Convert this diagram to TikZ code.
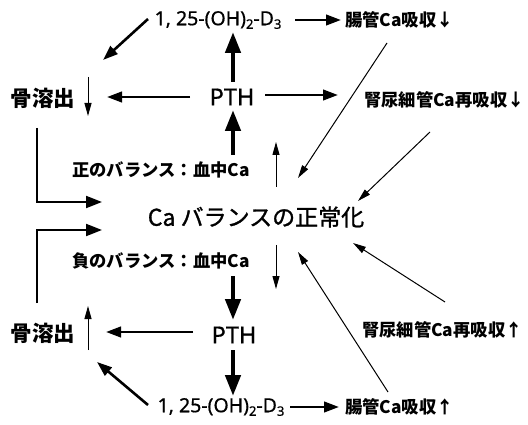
\documentclass[tikz,border=0pt]{standalone}
\usepackage{fontspec}
\setmainfont{Noto Sans}
\newfontfamily\latm[FakeBold=0.7]{Noto Sans}
\newfontfamily\jp{Noto Sans CJK JP}
\newfontfamily\jpm[FakeBold=1.2]{Noto Sans CJK JP}
\usetikzlibrary{arrows.meta}
\newcommand{\lowidx}[1]{\raisebox{-3.5pt}{\fontsize{13}{13}\selectfont #1}}
\tikzset{
  lat/.style={inner sep=0pt, font=\latm\fontsize{19.5}{19.5}\selectfont},
  big/.style={inner sep=0pt, font=\latm\fontsize{23.5}{23.5}\selectfont},
  jlab/.style={inner sep=0pt, font=\jp\bfseries\fontsize{17.3}{17.3}\selectfont},
  jbone/.style={inner sep=0pt, font=\jp\bfseries\fontsize{21.5}{21.5}\selectfont},
  jnorm/.style={inner sep=0pt, font=\jpm\fontsize{23}{23}\selectfont},
  heavy/.style={line width=4.5pt, -{Triangle[length=21pt,width=15pt]}},
  medium/.style={line width=2.6pt, -{Triangle[length=15pt,width=10.5pt]}},
  bracket/.style={line width=2pt, -{Triangle[length=16pt,width=12pt]}},
  slim/.style={line width=1pt, -{Triangle[length=13pt,width=7pt]}},
}
\begin{document}
\begin{tikzpicture}[x=1pt,y=-1pt]
\useasboundingbox (0,0) rectangle (528,425);

% labels, upper half
\node[lat] (d3top) at (218,20) {1, 25-(OH)\lowidx{2}-D\lowidx{3}};
\node[jlab,anchor=west] (gutTop) at (345,20) {腸管Ca吸収↓};
\node[jbone] (bone1) at (43,98) {骨溶出};
\node[big] (pth1) at (232,97) {PTH};
\node[jlab,anchor=west] (kid1) at (364,100) {腎尿細管Ca再吸収↓};
\node[jlab] (pos) at (161,170) {正のバランス：血中Ca};

% centre
\node[jnorm] (norm) at (256,217) {Ca バランスの正常化};

% labels, lower half
\node[jlab] (neg) at (161,261) {負のバランス：血中Ca};
\node[big] (pth2) at (234,335) {PTH};
\node[jbone] (bone2) at (43,333) {骨溶出};
\node[jlab,anchor=west] (kid2) at (362,330) {腎尿細管Ca再吸収↑};
\node[lat] (d3bot) at (221,407) {1, 25-(OH)\lowidx{2}-D\lowidx{3}};
\node[jlab,anchor=west] (gutBot) at (345,407) {腸管Ca吸収↑};

% free ends of the connectors
\coordinate (a1s) at (148,19);  \coordinate (a1e) at (103,60);
\coordinate (b1s) at (88,77);   \coordinate (b1e) at (88,116);
\coordinate (p1u) at (233,82);  \coordinate (d3u) at (233,32);
\coordinate (p1l) at (190,97);  \coordinate (bl1) at (107,97);
\coordinate (p1r) at (265,95);  \coordinate (kr1) at (338,95);
\coordinate (dg1) at (295,20);  \coordinate (gg1) at (341,20);
\coordinate (ps1) at (233,155); \coordinate (pt1) at (233,110);
\coordinate (th1) at (276,187); \coordinate (th2) at (276,142);
\coordinate (g1s) at (387,43);  \coordinate (g1e) at (298,178);
\coordinate (k1s) at (430,132); \coordinate (k1e) at (358,201);
\coordinate (lb1) at (37,128);  \coordinate (lb2) at (37,202); \coordinate (lb3) at (102,202);
\coordinate (lb4) at (37,303);  \coordinate (lb5) at (37,230); \coordinate (lb6) at (102,230);
\coordinate (th3) at (276,245); \coordinate (th4) at (276,289);
\coordinate (ng1) at (233,276); \coordinate (pt2) at (233,320);
\coordinate (g2s) at (388,392); \coordinate (g2e) at (298,252);
\coordinate (k2s) at (445,302); \coordinate (k2e) at (353,243);
\coordinate (p2l) at (193,332); \coordinate (bl2) at (106,332);
\coordinate (b2s) at (88,350);  \coordinate (b2e) at (88,306);
\coordinate (p2d) at (233,350); \coordinate (d3d) at (233,396);
\coordinate (a2s) at (148,405); \coordinate (a2e) at (97,362);
\coordinate (dg2) at (290,407); \coordinate (gg2) at (339,407);

% upper half connectors
\draw[medium] (a1s) -- (a1e);
\draw[slim] (b1s) -- (b1e);
\draw[heavy] (p1u) -- (d3u);
\draw[medium] (p1l) -- (bl1);
\draw[medium] (p1r) -- (kr1);
\draw[medium] (dg1) -- (gg1);
\draw[heavy] (ps1) -- (pt1);
\draw[slim] (th1) -- (th2);
\draw[slim] (g1s) -- (g1e);
\draw[slim] (k1s) -- (k1e);
\draw[bracket] (lb1) -- (lb2) -- (lb3);

% lower half connectors
\draw[bracket] (lb4) -- (lb5) -- (lb6);
\draw[slim] (th3) -- (th4);
\draw[heavy] (ng1) -- (pt2);
\draw[slim] (g2s) -- (g2e);
\draw[slim] (k2s) -- (k2e);
\draw[medium] (p2l) -- (bl2);
\draw[slim] (b2s) -- (b2e);
\draw[heavy] (p2d) -- (d3d);
\draw[medium] (a2s) -- (a2e);
\draw[medium] (dg2) -- (gg2);
\end{tikzpicture}
\end{document}
